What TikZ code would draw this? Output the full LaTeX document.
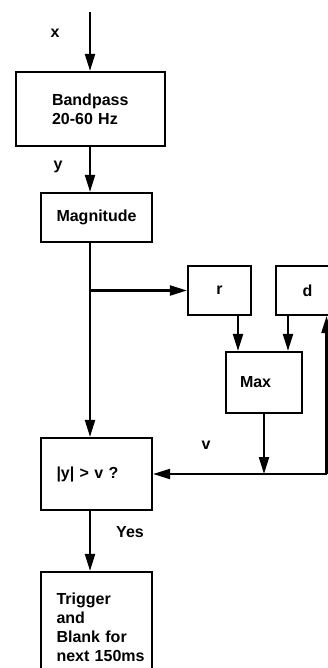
\documentclass[tikz,border=0pt]{standalone}
\usepackage{fontspec}
\setmainfont{Liberation Sans}
\usetikzlibrary{arrows.meta,positioning,calc}

\begin{document}
\begin{tikzpicture}[x=1pt, y=-1pt, >={Triangle[length=17pt,width=10pt]}, line width=2.2pt,
  font=\fontsize{16}{19}\selectfont\bfseries,
  blk/.style={draw, align=left, inner ysep=0pt},
  sml/.style={draw, minimum width=63pt, minimum height=49pt}]
  \useasboundingbox (0,0) rectangle (328,668);
  \clip (0,0) rectangle (328,668);
  % main column
  \node[blk, text width=77pt, inner xsep=36pt, minimum height=74pt] (bp) at (90.5,109) {Bandpass\\20-60 Hz};
  \node[blk, text width=80pt, inner xsep=15.5pt, minimum height=49pt] (mag) at (96.5,217.5) {Magnitude};
  \node[blk, text width=80pt, inner xsep=15.5pt, minimum height=72pt] (cmp) at (96.5,474) {|y| > v ?};
  \node[blk, text width=80pt, inner xsep=15.5pt, minimum height=110pt] (trig) at (96.5,627) {Trigger\\and\\Blank for\\next~150ms};
  % threshold part
  \node[sml] (r) at (219.5,290.5) {r};
  \node[sml] (d) at (307.5,290.5) {d};
  \node[blk, text width=48pt, inner xsep=14pt, minimum height=61pt] (max) at (264,382.5) {Max};
  % labels
  \node (xlab) at (55,33) {x};
  \node (ylab) at (58,167) {y};
  \node (vlab) at (206,445) {v};
  \node (yeslab) at (130,532) {Yes};
  % connectors
  \coordinate (top) at (90,12);
  \draw[->] (top) -- (top |- bp.north);
  \draw[->] (top |- bp.south) -- (top |- mag.north);
  \draw[->] (top |- mag.south) -- (top |- cmp.north);
  \draw[->] (top |- r.west) -- (r.west);
  \draw[->] ([xshift=18.5pt]r.south) -- ([xshift=18.5pt]r.south |- max.north);
  \draw[->] ([xshift=-19.5pt]d.south) -- ([xshift=-19.5pt]d.south |- max.north);
  \coordinate (vj) at (max.south |- cmp.east);
  \coordinate (fb) at ([xshift=19pt]d.south |- cmp.east);
  \draw[->] (max.south) -- (vj);
  \draw[->] (fb) -- (cmp.east);
  \draw[->] (fb) -- ([xshift=19pt]d.south);
  \draw[->] (top |- cmp.south) -- (top |- trig.north);
\end{tikzpicture}
\end{document}
